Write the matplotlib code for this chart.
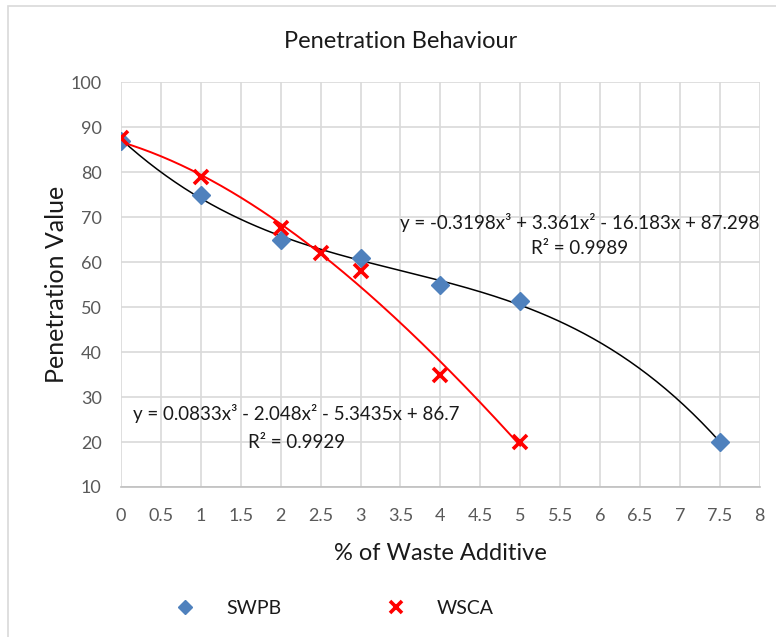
import numpy as np
import matplotlib
matplotlib.use("Agg")
import matplotlib.pyplot as plt
from matplotlib.patches import Rectangle

# data
swpb_x = [0, 1, 2, 3, 4, 5, 7.5]
swpb_y = [87, 75, 65, 61, 55, 51.3, 20]
wsca_x = [0, 1, 2, 2.5, 3, 4, 5]
wsca_y = [87.5, 79, 67.5, 62, 58, 35, 20]

# trendline coefficients (cubic, highest power first)
swpb_coef = [-0.3198, 3.361, -16.183, 87.298]
wsca_coef = [0.0833, -2.048, -5.3435, 86.7]
swpb_r2 = 0.9989
wsca_r2 = 0.9929

plt.rcParams['font.family'] = ['Lato', 'DejaVu Sans']

fig = plt.figure(figsize=(7.76, 6.37), dpi=100)
ax = fig.add_axes([0.156, 0.2355, 0.823, 0.6355])

grid_c = '#d9d9d9'
tick_c = '#595959'
txt_c = '#1a1a1a'

xs = np.linspace(min(swpb_x), max(swpb_x), 200)
ax.plot(xs, np.polyval(swpb_coef, xs), color='black', lw=1.1, zorder=2)
xr = np.linspace(min(wsca_x), max(wsca_x), 200)
ax.plot(xr, np.polyval(wsca_coef, xr), color='#ff0000', lw=1.4, zorder=2)

ax.plot(swpb_x, swpb_y, 'D', color='#4f81bd', ms=9.5, ls='none', label='SWPB', zorder=3)
ax.plot(wsca_x, wsca_y, 'x', color='#ff0000', ms=10, mew=2.6, ls='none', label='WSCA', zorder=4)

ax.set_xlim(0, 8)
ax.set_ylim(10, 100)
ax.set_xticks(np.arange(0, 8.01, 0.5))
ax.set_xticklabels(['0', '0.5', '1', '1.5', '2', '2.5', '3', '3.5', '4', '4.5', '5',
                    '5.5', '6', '6.5', '7', '7.5', '8'])
ax.set_yticks(np.arange(10, 101, 10))
ax.grid(True, color=grid_c, lw=1.2)
ax.set_axisbelow(True)
for s in ax.spines.values():
    s.set_visible(False)
ax.spines['bottom'].set_visible(True)
ax.spines['bottom'].set_color('#bfbfbf')
ax.spines['bottom'].set_linewidth(1.2)
ax.tick_params(length=0, labelsize=13, colors=tick_c)
ax.tick_params(axis='x', pad=15)
ax.tick_params(axis='y', pad=14)

ax.set_xlabel('% of Waste Additive', fontsize=17, color=txt_c, labelpad=14)
ax.set_ylabel('Penetration Value', fontsize=18, color=txt_c, labelpad=2)
fig.text(0.516, 0.935, 'Penetration Behaviour', ha='center', va='center',
         fontsize=17, color=txt_c)

def eq_text(c):
    return ('y = %sx³ + %sx² - %sx + %s' % (c[0], c[1], abs(c[2]), c[3])) if c[1] > 0 else \
           ('y = %sx³ - %sx² - %sx + %s' % (c[0], abs(c[1]), abs(c[2]), c[3]))

ax.text(5.74, 68.9, eq_text(swpb_coef), ha='center', va='center', fontsize=13.5, color=txt_c)
ax.text(5.74, 63.1, 'R² = %s' % swpb_r2, ha='center', va='center', fontsize=13.5, color=txt_c)
ax.text(2.2, 26.4, eq_text(wsca_coef), ha='center', va='center', fontsize=13.5, color=txt_c)
ax.text(2.2, 20.0, 'R² = %s' % wsca_r2, ha='center', va='center', fontsize=13.5, color=txt_c)

leg = fig.legend(loc='center', bbox_to_anchor=(0.425, 0.045), ncol=2, frameon=False,
                 fontsize=14, columnspacing=4.9, handletextpad=1.1, markerscale=0.8)
for t in leg.get_texts():
    t.set_color(txt_c)

# outer chart border
fig.patches.append(Rectangle((8 / 776, -0.05), 1.2, 1 - 6 / 637 + 0.05,
                             transform=fig.transFigure, fill=False,
                             edgecolor='#d9d9d9', lw=1.2))

fig.savefig('out.png', dpi=100)
